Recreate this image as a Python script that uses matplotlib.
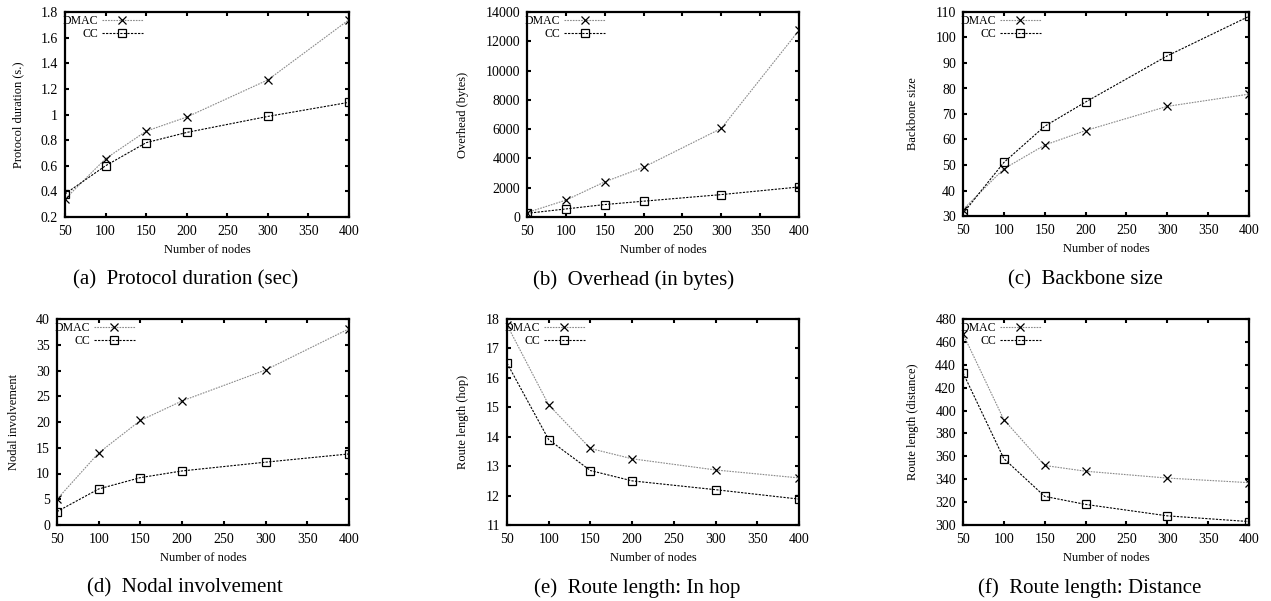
import matplotlib
matplotlib.use('Agg')
import matplotlib.pyplot as plt

plt.rcParams['font.family'] = 'Liberation Serif'

# number of nodes
nodes = [50, 100, 150, 200, 300, 400]

# (a) protocol duration
duration_dmac = [0.34, 0.655, 0.87, 0.98, 1.27, 1.74]
duration_cc = [0.38, 0.60, 0.78, 0.86, 0.985, 1.095]

# (b) overhead
overhead_dmac = [300, 1150, 2400, 3400, 6050, 12750]
overhead_cc = [250, 550, 850, 1080, 1530, 2050]

# (c) backbone size
backbone_dmac = [32.5, 48.5, 57.8, 63.5, 73.0, 77.8]
backbone_cc = [31.0, 51.0, 65.2, 74.7, 92.8, 108.3]

# (d) nodal involvement
nodal_dmac = [5.0, 14.0, 20.3, 24.1, 30.1, 38.1]
nodal_cc = [2.6, 7.0, 9.2, 10.5, 12.2, 13.8]

# (e) route length in hops
hop_dmac = [17.8, 15.08, 13.6, 13.25, 12.87, 12.6]
hop_cc = [16.5, 13.9, 12.85, 12.5, 12.2, 11.88]

# (f) route length distance
dist_dmac = [467, 392, 352, 347, 341, 337]
dist_cc = [433, 358, 325, 318, 308, 303]

panels = [
    (duration_dmac, duration_cc, 'Protocol duration (s.)', (0.2, 1.8), [0.2, 0.4, 0.6, 0.8, 1, 1.2, 1.4, 1.6, 1.8],
     ['0.2', '0.4', '0.6', '0.8', '1', '1.2', '1.4', '1.6', '1.8'], '(a)  Protocol duration (sec)'),
    (overhead_dmac, overhead_cc, 'Overhead (bytes)', (0, 14000), list(range(0, 14001, 2000)), None,
     '(b)  Overhead (in bytes)'),
    (backbone_dmac, backbone_cc, 'Backbone size', (30, 110), list(range(30, 111, 10)), None,
     '(c)  Backbone size'),
    (nodal_dmac, nodal_cc, 'Nodal involvement', (0, 40), list(range(0, 41, 5)), None,
     '(d)  Nodal involvement'),
    (hop_dmac, hop_cc, 'Route length (hop)', (11, 18), list(range(11, 19)), None,
     '(e)  Route length: In hop'),
    (dist_dmac, dist_cc, 'Route length (distance)', (300, 480), list(range(300, 481, 20)), None,
     '(f)  Route length: Distance'),
]

# axes boxes in pixels: left, right, top, bottom
boxes = [
    (65, 349, 12, 217), (527, 799, 12, 217), (963, 1249, 12, 216),
    (57, 349, 319, 525), (507, 799, 319, 525), (963, 1249, 319, 525),
]
caption_pos = [(186, 280), (634, 280), (1085, 280), (185, 588), (637, 588), (1090, 588)]

W, H = 1271, 601
fig = plt.figure(figsize=(W / 100, H / 100), dpi=100)

for i, (dmac, cc, ylabel, ylim, yticks, yticklabels, caption) in enumerate(panels):
    l, r, t, b = boxes[i]
    ax = fig.add_axes([l / W, 1 - b / H, (r - l) / W, (b - t) / H])
    ax.plot(nodes, dmac, color='#8a8a8a', linestyle=(0, (1.5, 1)), linewidth=0.8,
            marker='x', markersize=5.5, markeredgecolor='black', markeredgewidth=0.9, label='DMAC')
    ax.plot(nodes, cc, color='black', linestyle=(0, (2, 1.2)), linewidth=0.8,
            marker='s', markersize=5.5, markerfacecolor='none', markeredgecolor='black',
            markeredgewidth=0.9, label='CC')
    ax.set_xlim(50, 400)
    ax.set_ylim(*ylim)
    ax.set_xticks([50, 100, 150, 200, 250, 300, 350, 400])
    ax.set_yticks(yticks)
    if yticklabels:
        ax.set_yticklabels(yticklabels)
    ax.tick_params(direction='in', top=True, right=True, labelsize=10, length=3, width=1.5)
    ax.tick_params(axis='x', pad=6)
    ax.tick_params(axis='y', pad=5)
    for s in ax.spines.values():
        s.set_linewidth(1.6)
    ax.set_xlabel('Number of nodes', fontsize=9, labelpad=4)
    ax.set_ylabel(ylabel, fontsize=9, labelpad=12)
    ax.legend(loc='upper left', bbox_to_anchor=(-0.012, 0.99), frameon=False, markerfirst=False,
              fontsize=8.5, handlelength=3.5, handletextpad=0.3, borderaxespad=0, borderpad=0.1,
              labelspacing=0.05)
    cx, cy = caption_pos[i]
    fig.text(cx / W, 1 - cy / H, caption, ha='center', va='center', fontsize=15)

fig.savefig('out.png', dpi=100)
